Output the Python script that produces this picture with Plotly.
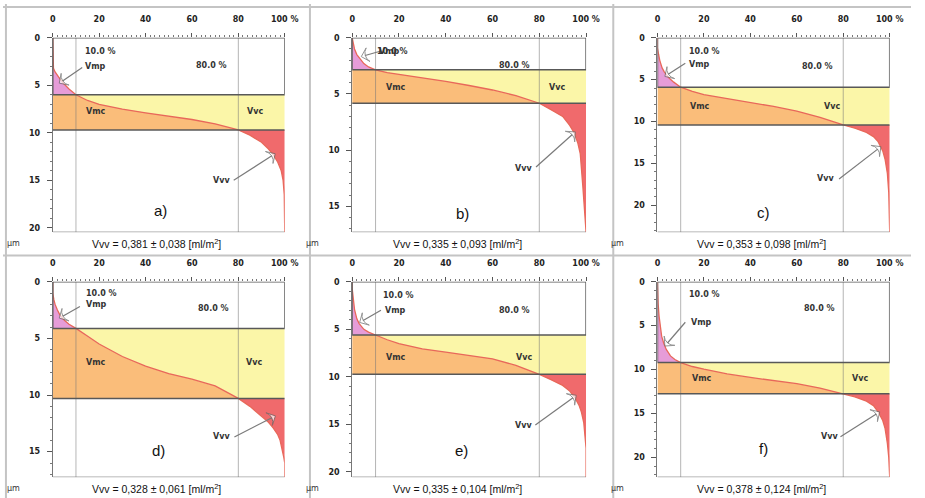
import plotly.graph_objects as go

# ---------------- data ----------------
panel_letters = ["a)", "b)", "c)", "d)", "e)", "f)"]
vvv_mean = ["0,381", "0,335", "0,353", "0,328", "0,335", "0,378"]
vvv_sd = ["0,038", "0,093", "0,098", "0,061", "0,104", "0,124"]
x_tick_vals = [0, 20, 40, 60, 80, 100]
x_tick_text = ["0", "20", "40", "60", "80", "100 %"]
y_tick_vals = [0, 5, 10, 15, 20]
mr_peak = 10.0   # material ratio of the peak/core limit (%)
mr_valley = 80.0  # material ratio of the core/valley limit (%)

ratio_a = [0, 0, 0.3, 1, 2, 3, 5, 7, 10, 15, 20, 30, 40, 50, 60, 70, 80, 85, 90, 93, 95, 97, 98.5, 99.3, 99.8, 100]
height_a = [0, 2.8, 3.2, 3.6, 4.0, 4.3, 4.9, 5.4, 6.0, 6.6, 7.0, 7.5, 7.9, 8.25, 8.6, 9.05, 9.7, 10.25, 11.0, 11.7, 12.3, 13.1, 14.0, 15.0, 16.5, 20.45]

ratio_b = [0, 0.5, 1, 2, 3, 5, 7, 10, 15, 20, 30, 40, 50, 60, 70, 80, 85, 90, 93, 95, 96.5, 97.5, 98.6, 99.4, 100]
height_b = [0, 0.6, 1.0, 1.5, 1.8, 2.3, 2.6, 2.86, 3.1, 3.25, 3.55, 3.88, 4.25, 4.65, 5.15, 5.83, 6.4, 7.0, 7.8, 8.5, 9.4, 10.3, 13.2, 16.0, 17.3]

ratio_c = [0, 0, 0.5, 1, 2, 3, 5, 7, 10, 15, 20, 30, 40, 50, 60, 70, 80, 85, 90, 93, 95, 97, 98, 99, 99.6, 100]
height_c = [0, 1.2, 2.0, 2.7, 3.6, 4.1, 4.8, 5.3, 5.9, 6.4, 6.8, 7.25, 7.7, 8.2, 8.75, 9.5, 10.4, 10.8, 11.3, 11.8, 12.4, 13.5, 14.5, 16.2, 18.5, 23.2]

ratio_d = [0, 0, 0.5, 1, 2, 3, 5, 7, 10, 15, 20, 30, 40, 50, 60, 70, 80, 85, 90, 93, 95, 97, 98, 99, 99.6, 100, 100]
height_d = [0, 1.0, 1.6, 2.0, 2.5, 2.9, 3.4, 3.75, 4.12, 4.85, 5.5, 6.6, 7.45, 8.1, 8.6, 9.2, 10.3, 11.0, 11.85, 12.4, 12.9, 13.5, 14.0, 14.8, 15.5, 16.0, 17.25]

ratio_e = [0, 0, 0.5, 1, 2, 3, 5, 7, 10, 15, 20, 30, 40, 50, 60, 70, 80, 85, 90, 93, 95, 97, 98, 99, 99.6, 100, 100]
height_e = [0, 0.7, 1.8, 2.9, 3.9, 4.4, 5.0, 5.3, 5.6, 6.1, 6.5, 7.05, 7.4, 7.75, 8.1, 8.8, 9.74, 10.3, 10.9, 11.5, 12.1, 13.0, 13.7, 14.8, 16.2, 17.5, 20.55]

ratio_f = [0, 0, 0.3, 0.7, 1.2, 1.8, 2.7, 3.8, 5.6, 7.5, 10, 15, 20, 30, 40, 50, 60, 70, 80, 85, 90, 93, 95, 97, 98, 99, 99.6, 100]
height_f = [0, 1.0, 2.5, 3.9, 5.1, 6.2, 7.0, 7.7, 8.44, 8.85, 9.2, 9.65, 9.96, 10.5, 10.9, 11.25, 11.6, 12.1, 12.76, 13.1, 13.6, 14.1, 14.8, 15.8, 16.7, 18.4, 20.0, 22.25]

ratios = [ratio_a, ratio_b, ratio_c, ratio_d, ratio_e, ratio_f]
heights = [height_a, height_b, height_c, height_d, height_e, height_f]

# ---------------- layout / style ----------------
W, H = 925, 498
cols_px = [(50.7, 287.0), (355.7, 594.0), (666.7, 903.3)]
rows_px = [(34.0, 230.0), (280.0, 477.0)]

# label placement per panel (data coordinates of each panel)
label_pos = [
    dict(p10=(20.4, 1.47), vmp=(18.5, 3.03), p80=(68.6, 2.93), vmc=(18.7, 7.73), vvc=(87.2, 7.73),
         vvv=(72.8, 15.05), let=(46.3, 18.2), a1=((12.7, 3.13), (2.8, 4.78)), a2=((78.0, 14.98), (95.9, 12.2))),
    dict(p10=(17.2, 1.19), vmp=(15.8, 1.27), p80=(69.6, 2.44), vmc=(18.6, 4.41), vvc=(87.7, 4.41),
         vvv=(73.1, 11.6), let=(47.2, 15.6), a1=((12.3, 1.18), (3.9, 1.68)), a2=((78.6, 11.5), (95.4, 8.38))),
    dict(p10=(20.4, 1.66), vmp=(18.3, 3.24), p80=(69.0, 3.43), vmc=(18.3, 8.17), vvc=(75.3, 8.17),
         vvv=(72.5, 16.85), let=(45.8, 20.8), a1=((12.0, 3.04), (3.2, 4.62)), a2=((78.2, 16.85), (96.2, 13.0))),
    dict(p10=(21.0, 1.02), vmp=(18.8, 2.04), p80=(69.1, 2.33), vmc=(18.8, 7.16), vvc=(86.8, 7.16),
         vvv=(72.7, 13.7), let=(45.7, 14.9), a1=((11.7, 2.19), (2.8, 3.21)), a2=((78.3, 13.7), (96.0, 11.84))),
    dict(p10=(20.0, 1.43), vmp=(18.6, 3.0), p80=(69.2, 3.0), vmc=(18.6, 7.93), vvc=(73.4, 7.93),
         vvv=(73.4, 15.07), let=(46.7, 17.7), a1=((12.3, 3.0), (3.2, 4.28)), a2=((78.3, 15.07), (95.8, 11.94))),
    dict(p10=(20.4, 1.5), vmp=(19.0, 4.68), p80=(69.7, 3.0), vmc=(19.0, 11.07), vvc=(87.3, 11.07),
         vvv=(73.9, 17.64), let=(45.8, 18.95), a1=((12.0, 4.61), (3.2, 7.32)), a2=((78.8, 17.64), (95.7, 14.82))),
]

C_PINK = "#e69cd8"
C_ORANGE = "#fabd7a"
C_YELLOW = "#fbf6a8"
C_RED = "#f06a6c"
C_CURVE = "#e8685a"
C_BOX = "#585858"
C_VLINE = "rgba(120,120,120,0.55)"
LBL_FONT = dict(family="DejaVu Sans", size=8, color="#333", weight="bold")

fig = go.Figure()
shapes = []
annotations = []

for k in range(6):
    r = ratios[k]
    h = heights[k]
    row, col = divmod(k, 3)
    sfx = "" if k == 0 else str(k + 1)
    xa, ya = "x" + sfx, "y" + sfx
    i10 = r.index(mr_peak)
    i80 = r.index(mr_valley)
    upper = h[i10]
    lower = h[i80]
    ymax = max(h)

    def poly(xs, ys, color):
        fig.add_trace(go.Scatter(x=xs, y=ys, fill="toself", fillcolor=color, mode="lines",
                                 line=dict(width=0), hoverinfo="skip", showlegend=False,
                                 xaxis=xa, yaxis=ya))

    # Vvc (yellow), Vmc (orange), Vmp (pink), Vvv (red)
    poly(r[i10:i80 + 1] + [100, 100], h[i10:i80 + 1] + [lower, upper], C_YELLOW)
    poly([0] + r[i10:i80 + 1] + [0], [upper] + h[i10:i80 + 1] + [lower], C_ORANGE)
    poly(r[:i10 + 1] + [0], h[:i10 + 1] + [upper], C_PINK)
    poly(r[i80:] + [100], h[i80:] + [lower], C_RED)
    # bearing area curve
    fig.add_trace(go.Scatter(x=r, y=h, mode="lines", line=dict(color=C_CURVE, width=1.3),
                             hoverinfo="skip", showlegend=False, xaxis=xa, yaxis=ya))

    lp = label_pos[k]
    for tail, head in (lp["a1"], lp["a2"]):
        fig.add_trace(go.Scatter(x=[tail[0], head[0]], y=[tail[1], head[1]], mode="lines+markers",
                                 line=dict(color="#7a7a7a", width=1.2),
                                 marker=dict(symbol="arrow-wide", size=[0, 10], angleref="previous",
                                             color="white", line=dict(color="#666", width=1)),
                                 hoverinfo="skip", showlegend=False, xaxis=xa, yaxis=ya))

    x0p, x1p = cols_px[col]
    y0p, y1p = rows_px[row]
    xdom = [x0p / W, x1p / W]
    ydom = [1 - y1p / H, 1 - y0p / H]
    axfont = dict(family="DejaVu Sans", size=8, color="#222", weight="bold")
    fig.layout["xaxis" + sfx] = dict(domain=xdom, range=[0, 100], side="top", anchor=ya,
                                     tickvals=x_tick_vals, ticktext=x_tick_text, tickfont=axfont,
                                     ticks="outside", ticklen=4, tickcolor="#555", ticklabelstandoff=8,
                                     minor=dict(dtick=2, ticks="outside", ticklen=2, tickcolor="#777"),
                                     showgrid=False, zeroline=False, showline=False, fixedrange=True)
    fig.layout["yaxis" + sfx] = dict(domain=ydom, range=[ymax, 0], anchor=xa,
                                     tickvals=[v for v in y_tick_vals if v <= ymax], tickfont=axfont,
                                     ticks="outside", ticklen=5, tickcolor="#555", ticklabelstandoff=5,
                                     minor=dict(dtick=1, ticks="outside", ticklen=2, tickcolor="#777"),
                                     showline=True, linecolor="#777", linewidth=1,
                                     showgrid=False, zeroline=False, fixedrange=True)

    # reference lines
    for xv in (mr_peak, mr_valley):
        shapes.append(dict(type="line", xref=xa, yref=ya, x0=xv, x1=xv, y0=0, y1=ymax,
                           line=dict(color=C_VLINE, width=1), layer="above"))
    shapes.append(dict(type="rect", xref=xa, yref=ya, x0=0, x1=100, y0=0, y1=upper,
                       line=dict(color=C_BOX, width=1.5), layer="above"))
    shapes.append(dict(type="line", xref=xa, yref=ya, x0=0, x1=100, y0=lower, y1=lower,
                       line=dict(color=C_BOX, width=1.5), layer="above"))
    shapes.append(dict(type="line", xref=xa, yref=ya, x0=0, x1=100, y0=ymax, y1=ymax,
                       line=dict(color="#777", width=1), layer="above"))

    def txt(pos, s, font=LBL_FONT):
        annotations.append(dict(x=pos[0], y=pos[1], xref=xa, yref=ya, text=s, showarrow=False,
                                font=font, xanchor="center", yanchor="middle"))

    txt(lp["p10"], f"{mr_peak:.1f} %")
    txt(lp["vmp"], "Vmp")
    txt(lp["p80"], f"{mr_valley:.1f} %")
    txt(lp["vmc"], "Vmc")
    txt(lp["vvc"], "Vvc")
    txt(lp["vvv"], "Vvv")
    txt(lp["let"], panel_letters[k], dict(family="Liberation Sans", size=15, color="#111"))

    # caption and unit
    cap_y = 1 - (241.5 if row == 0 else 488.5) / H
    annotations.append(dict(x=((x0p + x1p) / 2 - 12) / W, y=cap_y, xref="paper", yref="paper",
                            text=f"Vvv = {vvv_mean[k]} ± {vvv_sd[k]} [ml/m<sup>2</sup>]",
                            showarrow=False, xanchor="center", yanchor="middle",
                            font=dict(family="Liberation Sans", size=10.5, color="#111")))
    annotations.append(dict(x=(x0p - 40.5) / W, y=cap_y, xref="paper", yref="paper", text="µm",
                            showarrow=False, xanchor="center", yanchor="middle",
                            font=dict(family="DejaVu Sans", size=8, color="#333")))

# panel frame lines
FR = "#c4c4c4"
for xv in (3, 312.7, 621.7):
    shapes.append(dict(type="line", xref="paper", yref="paper", x0=xv / W, x1=xv / W, y0=0, y1=1,
                       line=dict(color=FR, width=2)))
for yv in (3, 253.5):
    shapes.append(dict(type="line", xref="paper", yref="paper", x0=0, x1=1, y0=1 - yv / H, y1=1 - yv / H,
                       line=dict(color=FR, width=2)))

fig.update_layout(width=W, height=H, margin=dict(l=0, r=0, t=0, b=0),
                  paper_bgcolor="white", plot_bgcolor="white",
                  shapes=shapes, annotations=annotations, showlegend=False)

fig.write_html("out.html", config={"displayModeBar": False},
               post_script="document.body.style.margin='0px';document.body.style.overflow='hidden';")
